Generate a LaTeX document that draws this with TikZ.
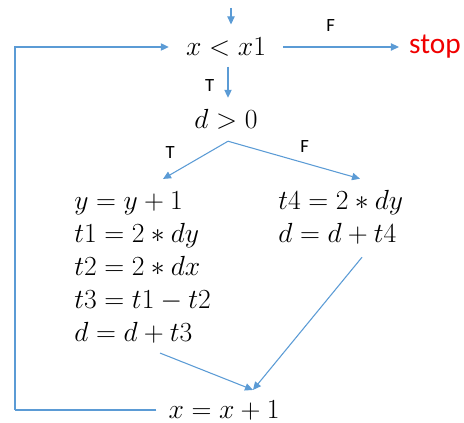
\documentclass[tikz,border=0pt]{standalone}
\usepackage{fontspec}
\newfontfamily\lab{Carlito}
\usetikzlibrary{arrows.meta,calc}
\definecolor{lblue}{RGB}{91,155,213}
\definecolor{sred}{RGB}{240,0,0}
\begin{document}
\begin{tikzpicture}[x=0.75pt,y=-0.75pt,
  mt/.style={inner sep=0pt,font=\fontsize{21}{24.75}\selectfont},
  lb/.style={inner sep=0pt,font=\lab\fontsize{14}{16}\selectfont},
  conn/.style={draw=lblue,line width=0.8pt,-{Triangle[length=6pt,width=5.5pt]}},
  seg/.style={draw=lblue,line width=0.8pt}]
\useasboundingbox (0,0) rectangle (464,423);
\node[mt] (cond) at (226,47) {$x<x1$};
\coordinate (start) at (231,8);
\node[inner sep=0pt,text=sred,font=\lab\fontsize{22}{24}\selectfont] (stop) at (435,47) {stop};
\node[mt] (dgt) at (226,119) {$d>0$};
\node[mt,align=left,anchor=west] (lft) at (74,267) {$y=y+1$\\$t1=2\ast dy$\\$t2=2\ast dx$\\$t3=t1-t2$\\$d=d+t3$};
\node[mt,align=left,anchor=west] (rgt) at (278,217) {$t4=2\ast dy$\\$d=d+t4$};
\node[mt] (inc) at (224,410) {$x=x+1$};
\coordinate (loopc) at (15,410);
% connectors
\draw[conn] (start) -- ($(cond.north)+(5,-13)$);
\draw[conn] ($(cond.east)+(17,0)$) -- node[lb,pos=0.41,above=11pt] (lf) {F} ($(stop.west)+(-10,0)$);
\draw[conn] ($(cond.south)+(2,10)$) -- node[lb,pos=0.6,left=10pt] (lt) {T} ($(dgt.north)+(2,-11)$);
\coordinate (br) at ($(dgt.south)+(2,12)$);
\draw[conn] (br) -- node[lb,pos=0.5,xshift=-19pt,yshift=6pt] (bt) {T} ($(lft.north west)+(89,-12)$);
\draw[conn] (br) -- node[lb,pos=0.5,xshift=8pt,yshift=10pt] (bf) {F} ($(rgt.north west)+(82,-11)$);
\draw[conn] ($(lft.south west)+(86,10)$) -- ($(inc.north)+(29,-10)$);
\draw[conn] ($(rgt.south west)+(84,13)$) -- ($(inc.north)+(29,-10)$);
\draw[seg] ($(inc.west)+(-12,0)$) -- (loopc);
\draw[conn] (loopc) |- ($(cond.west)+(-17,0)$);
\end{tikzpicture}
\end{document}
